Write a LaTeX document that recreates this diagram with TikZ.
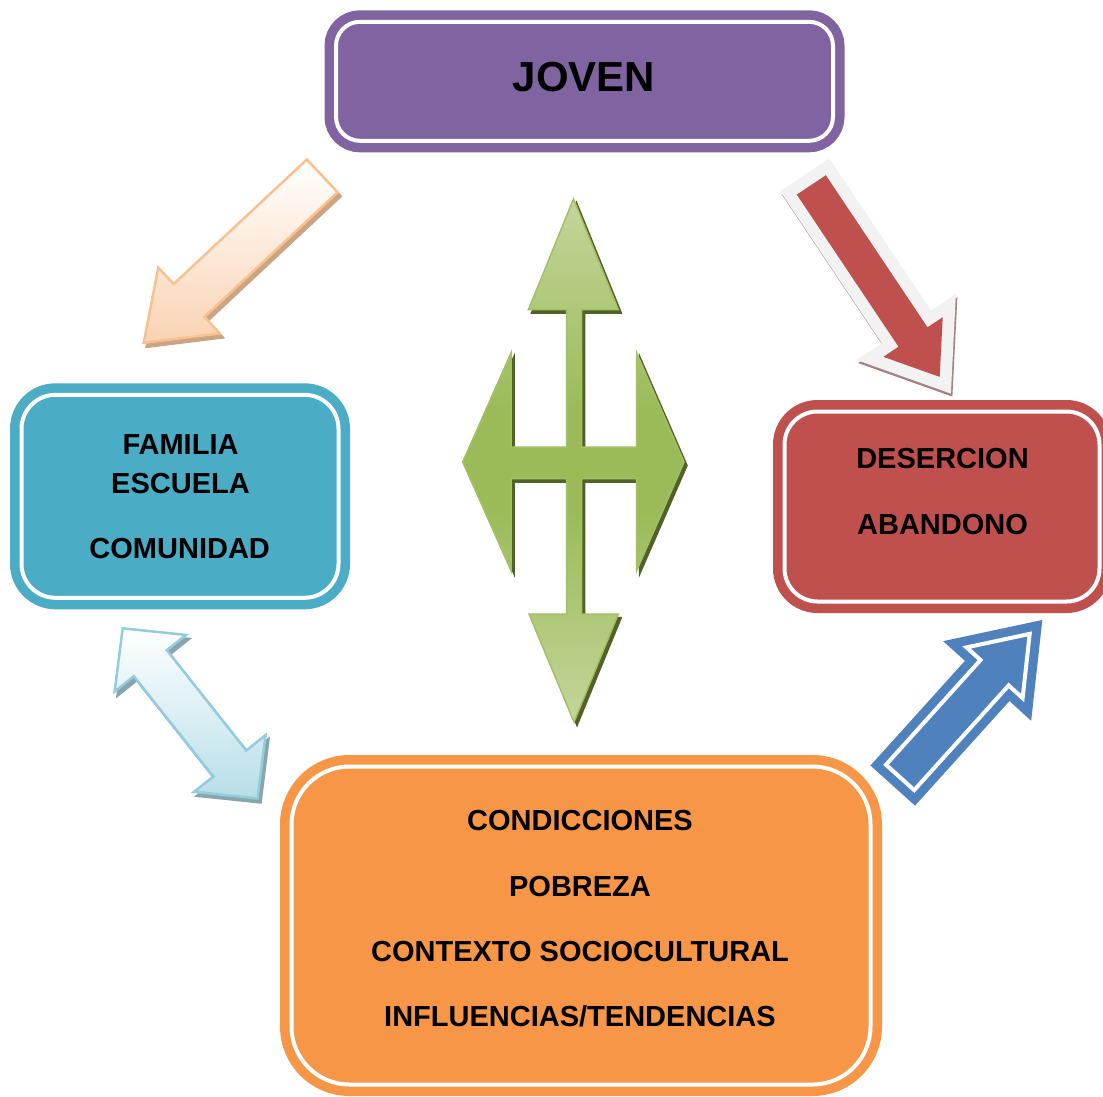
\documentclass[tikz,border=0pt]{standalone}
\usepackage{fontspec}
\setmainfont{Liberation Sans}
\definecolor{jpurple}{HTML}{8064A2}
\definecolor{jteal}{HTML}{4BACC6}
\definecolor{jred}{HTML}{C0504D}
\definecolor{jorange}{HTML}{F79646}
\definecolor{jblue}{HTML}{4F81BD}
\definecolor{peachB}{HTML}{FAC090}
\definecolor{peachF}{HTML}{F9D3B3}
\definecolor{peachS}{HTML}{C9A584}
\definecolor{redB}{HTML}{F2F2F2}
\definecolor{redS}{HTML}{A98080}
\definecolor{gLt}{HTML}{C3D69B}
\definecolor{gMd}{HTML}{9BBB59}
\definecolor{gBd}{HTML}{A2C064}
\definecolor{gS}{HTML}{4F6228}
\definecolor{ltbB}{HTML}{93CDDD}
\definecolor{ltbF}{HTML}{B7DEE8}
\definecolor{ltbS}{HTML}{8AA4AE}
\pgfdeclareverticalshading{greenv}{100bp}{color(0bp)=(gLt); color(25bp)=(gLt); color(45bp)=(gMd); color(55bp)=(gMd); color(75bp)=(gLt); color(100bp)=(gLt)}
\newcommand\peachshape[1]{\path[#1] (306.8,159.5) -- (337.6,192.3) -- (204.4,316.9) -- (219.7,333.4) -- (143.7,342.8) -- (158.3,267.6) -- (173.6,284.1) -- cycle;}
\newcommand\redshape[1]{\path[#1] (796.8,194.6) -- (825.8,175.2) -- (927.5,327.3) -- (942.7,317.2) -- (939.7,376.9) -- (883.3,356.8) -- (898.5,346.7) -- cycle;}
\newcommand\ltbshape[1]{\path[#1] (122.7,628.3) -- (186,634.9) -- (166.8,650.2) -- (246.3,750.5) -- (265.5,735.2) -- (257.5,798.4) -- (194.1,791.8) -- (213.3,776.5) -- (133.8,676.2) -- (114.6,691.5) -- cycle;}
\newcommand\blueshape[1]{\path[#1] (1029.7,633.9) -- (1022.6,698.1) -- (1008.7,685.4) -- (914.2,790.1) -- (886.0,764.7) -- (980.5,660.0) -- (966.5,647.4) -- cycle;}
\newcommand\greenshape[1]{\path[#1] (573.5,199) -- (618.3,309.5) -- (581.5,309.5) -- (581.5,447) -- (636.7,447) -- (636.7,353) -- (684,462) -- (636.7,570.5) -- (636.7,478.5) -- (581.5,478.5) -- (581.5,614) -- (618.3,614) -- (574,722) -- (529,614) -- (566.7,614) -- (566.7,478.5) -- (511,478.5) -- (511,570.5) -- (462.7,462) -- (511,353) -- (511,447) -- (566.7,447) -- (566.7,309.5) -- (528.5,309.5) -- cycle;}
\tikzset{
  dbox/.style={rectangle, draw=#1, fill=#1, line width=9.5pt, double=white, double distance=4pt, inner sep=0pt},
  lbl/.style={font=\bfseries\fontsize{29}{29}\selectfont, anchor=base, inner sep=0pt, text=black},
  biglbl/.style={font=\bfseries\fontsize{42}{42}\selectfont, anchor=base, inner sep=0pt, text=black}
}
\begin{document}
\begin{tikzpicture}[x=1pt,y=-1pt]
\useasboundingbox (0,0) rectangle (1103,1096);
\clip (0,0) rectangle (1103,1096);
\fill[white] (0,0) rectangle (1103,1096);
% boxes
\node[dbox=jpurple, minimum width=497pt, minimum height=119pt, rounded corners=24pt] (joven) at (584.5,81.3) {};
\node[dbox=jteal, minimum width=317pt, minimum height=203pt, rounded corners=34pt] (familia) at (180,496.3) {};
\node[dbox=jred, minimum width=315pt, minimum height=190pt, rounded corners=33pt] (desercion) at (942,506.5) {};
\node[dbox=jorange, minimum width=579pt, minimum height=318pt, rounded corners=58pt] (cond) at (581,925.5) {};
% texts
\node[biglbl] (tjoven) at (584,91) {JOVEN};
\node[lbl] (tfam) at (180.5,454.3) {FAMILIA};
\node[lbl] (tesc) at (180.5,493.3) {ESCUELA};
\node[lbl] (tcom) at (179.7,558.3) {COMUNIDAD};
\node[lbl] (tdes) at (942.5,468.3) {DESERCION};
\node[lbl] (taba) at (942.5,534) {ABANDONO};
\node[lbl] (tcon) at (580,830.7) {CONDICCIONES};
\node[lbl] (tpob) at (580,896) {POBREZA};
\node[lbl] (tctx) at (580,961.7) {CONTEXTO SOCIOCULTURAL};
\node[lbl] (tinf) at (580,1026.7) {INFLUENCIAS/TENDENCIAS};
% peach arrow
\peachshape{fill=peachS, draw=peachS, line width=2.5pt, line join=miter, shift={(3,4)}}
\peachshape{top color=white, bottom color=peachF, draw=peachB, line width=2.5pt, line join=miter}
% red arrow
\redshape{fill=redS, draw=redS, line width=24pt, line join=miter, shift={(1.5,3)}}
\redshape{draw=redB, line width=24pt, line join=miter}
\redshape{fill=jred}
% light blue double arrow
\ltbshape{fill=ltbS, draw=ltbS, line width=2.5pt, line join=miter, shift={(3,4)}}
\ltbshape{top color=white, bottom color=ltbF, draw=ltbB, line width=2.5pt, line join=miter}
% blue arrow
\blueshape{fill=jblue, draw=jblue, line width=9pt, double=white, double distance=4pt, line join=miter}
% green cross arrow
\greenshape{fill=gS, draw=gS, line width=1.5pt, line join=miter, shift={(3,3.5)}}
\greenshape{shading=greenv, draw=gBd, line width=1.5pt, line join=miter}
\end{tikzpicture}
\end{document}
